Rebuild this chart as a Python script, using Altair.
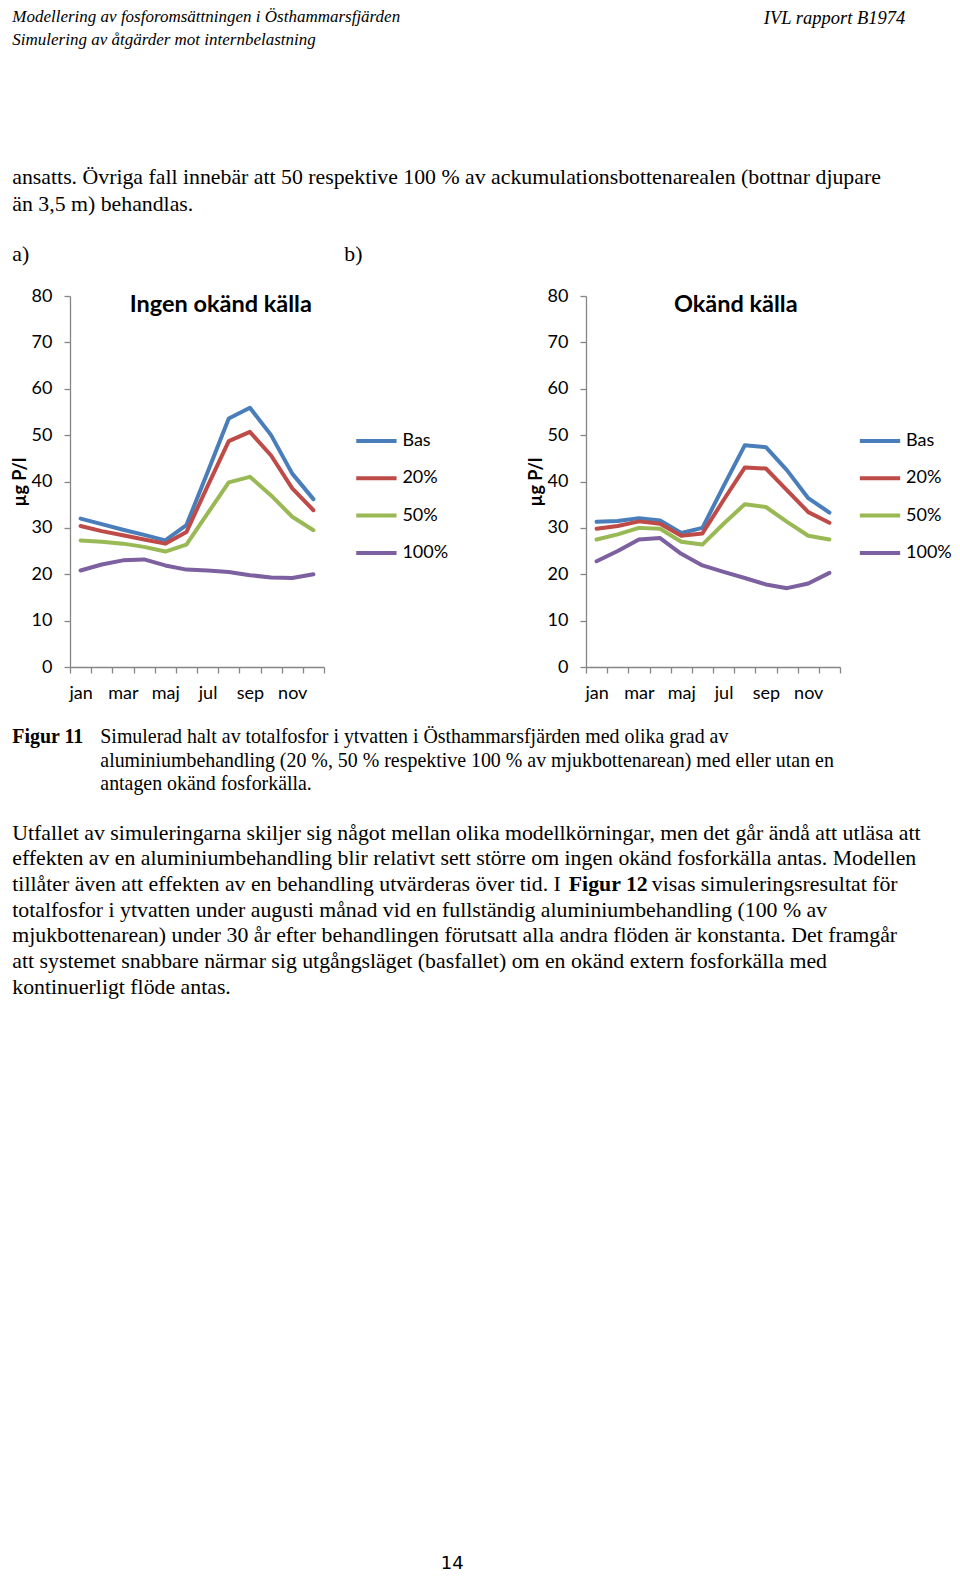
import json
import altair as alt
import pandas as pd

# ---------------- data ----------------
months = ["jan", "feb", "mar", "apr", "maj", "jun", "jul", "aug", "sep", "okt", "nov", "dec"]
series = ["Bas", "20%", "50%", "100%"]
colors = ["#4A7EBB", "#BE4B48", "#98B954", "#7D60A0"]

# a) Ingen okänd källa
a_bas = [32.0, 30.8, 29.6, 28.5, 27.3, 30.6, 42.0, 53.6, 55.9, 50.0, 41.7, 36.2]
a_20 = [30.4, 29.3, 28.4, 27.5, 26.6, 29.1, 39.0, 48.7, 50.7, 45.6, 38.5, 33.8]
a_50 = [27.3, 27.0, 26.6, 25.9, 24.9, 26.4, 33.1, 39.8, 41.0, 37.0, 32.4, 29.5]
a_100 = [20.8, 22.1, 23.0, 23.2, 21.9, 21.0, 20.8, 20.5, 19.8, 19.3, 19.2, 20.0]

# b) Okänd källa
b_bas = [31.3, 31.5, 32.1, 31.6, 28.9, 30.0, 39.0, 47.8, 47.4, 42.4, 36.4, 33.3]
b_20 = [29.8, 30.4, 31.4, 30.9, 28.3, 28.8, 36.0, 43.0, 42.8, 38.1, 33.4, 31.1]
b_50 = [27.5, 28.6, 30.0, 29.8, 27.0, 26.4, 30.9, 35.1, 34.5, 31.3, 28.3, 27.5]
b_100 = [22.8, 25.0, 27.5, 27.8, 24.4, 21.9, 20.5, 19.2, 17.8, 17.0, 18.0, 20.3]

y_ticks = [0, 10, 20, 30, 40, 50, 60, 70, 80]

header_left = ["Modellering av fosforomsättningen i Östhammarsfjärden",
               "Simulering av åtgärder mot internbelastning"]
header_right = "IVL rapport B1974"
intro_lines = ["ansatts. Övriga fall innebär att 50 respektive 100 % av ackumulationsbottenarealen (bottnar djupare",
               "än 3,5 m) behandlas."]
caption_label = "Figur 11"
caption_lines = ["Simulerad halt av totalfosfor i ytvatten i Östhammarsfjärden med olika grad av",
                 "aluminiumbehandling (20 %, 50 % respektive 100 % av mjukbottenarean) med eller utan en",
                 "antagen okänd fosforkälla."]
para_lines = ["Utfallet av simuleringarna skiljer sig något mellan olika modellkörningar, men det går ändå att utläsa att",
              "effekten av en aluminiumbehandling blir relativt sett större om ingen okänd fosforkälla antas. Modellen",
              None,
              "totalfosfor i ytvatten under augusti månad vid en fullständig aluminiumbehandling (100 % av",
              "mjukbottenarean) under 30 år efter behandlingen förutsatt alla andra flöden är konstanta. Det framgår",
              "att systemet snabbare närmar sig utgångsläget (basfallet) om en okänd extern fosforkälla med",
              "kontinuerligt flöde antas."]
para3_parts = ["tillåter även att effekten av en behandling utvärderas över tid. I", "Figur 12",
               "visas simuleringsresultat för"]
page_number = "14"


def long_df(vals):
    rows = []
    for s, v in zip(series, vals):
        for i, (m, y) in enumerate(zip(months, v)):
            rows.append({"serie": s, "mi": i, "month": m, "value": y})
    return pd.DataFrame(rows)


W, H = 254, 371
STEP = W / len(months)
SANS = "Lato"
SERIF = "Liberation Serif"
AXIS_GRAY = "#868686"
dummy = pd.DataFrame({"d": [0]})


def txt(s, x, y, size, font=SERIF, weight="normal", style="normal", align="left"):
    return alt.Chart(dummy).mark_text(
        text=s, align=align, baseline="middle", font=font, fontSize=size,
        fontWeight=weight, fontStyle=style, color="black"
    ).encode(x=alt.value(x), y=alt.value(y))


def panel(vals, title, title_x, legend_x, legend_y):
    df = long_df(vals)
    xvals = [i - 0.5 for i in range(len(months) + 1)]
    label_expr = ("(datum.value + 0.5) % 2 === 0 ? " + json.dumps(months)
                  + "[datum.value + 0.5] : ''")
    lines = alt.Chart(df).mark_line(strokeWidth=4, strokeJoin="round", strokeCap="round").encode(
        x=alt.X("mi:Q", scale=alt.Scale(domain=[-0.5, len(months) - 0.5], nice=False, zero=False),
                axis=alt.Axis(values=xvals, labelExpr=label_expr, labelOffset=STEP / 2,
                              labelFlush=False, labelOverlap=False, title=None, grid=False,
                              tickSize=6, tickColor=AXIS_GRAY, domainColor=AXIS_GRAY,
                              domainWidth=1.3, tickWidth=1.3, labelPadding=11,
                              labelFont=SANS, labelFontSize=18, labelColor="black")),
        y=alt.Y("value:Q", scale=alt.Scale(domain=[0, 80], nice=False),
                axis=alt.Axis(values=y_ticks, title="µg P/l", titleFont=SANS, titleFontSize=18,
                              titleFontWeight="bold", titleColor="black", titlePadding=2,
                              grid=False, tickSize=6, tickColor=AXIS_GRAY, domainColor=AXIS_GRAY,
                              domainWidth=1.3, tickWidth=1.3, labelPadding=12,
                              labelFont=SANS, labelFontSize=18, labelColor="black")),
        color=alt.Color("serie:N", scale=alt.Scale(domain=series, range=colors),
                        legend=alt.Legend(title=None, orient="none", legendX=legend_x, legendY=legend_y,
                                          symbolType="M-1.2,0L1.2,0", symbolSize=1129,
                                          symbolStrokeWidth=4, rowPadding=9.3, labelOffset=7,
                                          padding=0, labelFont=SANS, labelFontSize=18,
                                          labelColor="black")),
        order=alt.Order("serie:N")
    )
    ttl = txt(title, title_x, 8.6, 23.5, font=SANS, weight="bold", align="center")
    return [lines, ttl]


OX, OY = 66.7, 290.7  # page position of the left plot origin in the reference


def P(x, y):
    return x - OX, y - OY


BODY = 21.8
CAP = 19.9
page_texts = []
hx, hy = P(9, 12.1)
page_texts.append(txt(header_left[0], hx, hy, 17, style="italic"))
hx2, hy2 = P(9, 34.4)
page_texts.append(txt(header_left[1], hx2, hy2, 17, style="italic"))
rx, ry = P(902, 12.8)
page_texts.append(txt(header_right, rx, ry, 18.5, style="italic", align="right"))

for k, line in enumerate(intro_lines):
    x, y = P(9, 172 + k * 26.3)
    page_texts.append(txt(line, x, y, BODY))
x, y = P(9, 249)
page_texts.append(txt("a)", x, y, BODY))
x, y = P(341, 249)
page_texts.append(txt("b)", x, y, BODY))

x, y = P(9, 731.5)
page_texts.append(txt(caption_label, x, y, CAP, weight="bold"))
for k, line in enumerate(caption_lines):
    x, y = P(97, 731.5 + k * 23.75)
    page_texts.append(txt(line, x, y, CAP))

for k, line in enumerate(para_lines):
    yy = 827.5 + k * 25.63
    if line is None:
        x, y = P(9, yy)
        page_texts.append(txt(para3_parts[0], x, y, BODY))
        x, y = P(565.5, yy)
        page_texts.append(txt(para3_parts[1], x, y, BODY, weight="bold"))
        x, y = P(648.5, yy)
        page_texts.append(txt(para3_parts[2], x, y, BODY))
    else:
        x, y = P(9, yy)
        page_texts.append(txt(line, x, y, BODY))

x, y = P(449, 1559)
page_texts.append(txt(page_number, x, y, 18, font="DejaVu Sans", align="center"))

left = alt.layer(*panel([a_bas, a_20, a_50, a_100], "Ingen okänd källa", 150.8, 287.4, 126),
                 *page_texts).properties(width=W, height=H)
right = alt.layer(*panel([b_bas, b_20, b_50, b_100], "Okänd källa", 149.8, 275, 126)
                  ).properties(width=W, height=H)

chart = alt.hconcat(left, right, spacing=582.7 - OX - W, bounds="flush").resolve_scale(
    x="independent", y="independent", color="independent"
).resolve_legend(color="independent").configure_view(stroke=None).properties(
    padding={"left": 3, "top": 0, "right": 0, "bottom": 0}
)

chart.save("out.html", embed_options={"renderer": "svg", "actions": False})
